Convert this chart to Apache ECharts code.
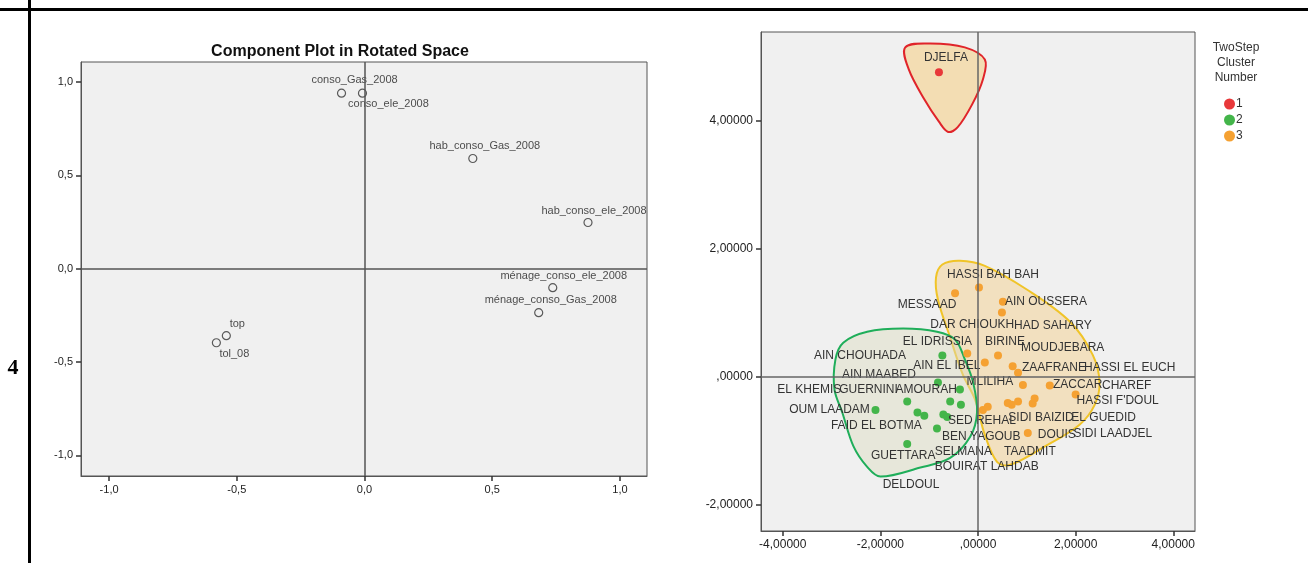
<!DOCTYPE html>
<html>
<head>
<meta charset="utf-8">
<script src="https://cdn.jsdelivr.net/npm/echarts@6/dist/echarts.min.js"></script>
<style>
  html, body { margin: 0; padding: 0; background: #fff; }
  #chart { width: 1308px; height: 563px; }
</style>
</head>
<body>
<div id="chart"></div>
<script>
// left panel: rotated component loadings
const componentNames = ['conso_Gas_2008', 'conso_ele_2008', 'hab_conso_Gas_2008', 'hab_conso_ele_2008',
  'ménage_conso_ele_2008', 'ménage_conso_Gas_2008', 'top', 'tol_08'];
const componentX = [-0.090, -0.008, 0.424, 0.875, 0.737, 0.682, -0.541, -0.580];
const componentY = [0.940, 0.940, 0.590, 0.247, -0.102, -0.236, -0.359, -0.397];
const componentTicks = [-1, -0.5, 0, 0.5, 1];

// right panel: communes by TwoStep cluster
const communeNames = ['DJELFA',
  'HASSI BAH BAH', 'MESSAAD', 'AIN OUSSERA', 'HAD SAHARY', 'DAR CHIOUKH', 'BIRINE', 'AIN EL IBEL',
  'MOUDJEBARA', 'ZAAFRANE', 'MLILIHA', 'HASSI EL EUCH', 'CHAREF', 'ZACCAR', "HASSI F'DOUL",
  'SIDI BAIZID', 'EL GUEDID', 'SIDI LAADJEL', 'DOUIS', 'TAADMIT', 'BOUIRAT LAHDAB',
  'EL IDRISSIA', 'AIN CHOUHADA', 'AIN MAABED', 'EL KHEMIS', 'GUERNINI', 'AMOURAH', 'SED REHAL',
  'OUM LAADAM', 'FAID EL BOTMA', 'SELMANA', 'BEN YAGOUB', 'GUETTARA', 'DELDOUL'];
const communeX = [-0.80,
  0.02, -0.47, 0.51, 0.49, -0.22, 0.41, 0.14,
  0.71, 0.82, 0.92, 1.47, 2.00, 1.12, 1.16,
  0.82, 0.69, 0.61, 1.02, 0.10, 0.20,
  -0.73, -0.82, -0.37, -1.45, -1.24, -0.57, -0.35,
  -2.10, -1.10, -0.71, -0.63, -1.45, -0.84];
const communeY = [4.75,
  1.39, 1.30, 1.17, 1.00, 0.36, 0.33, 0.22,
  0.16, 0.06, -0.13, -0.14, -0.28, -0.42, -0.34,
  -0.39, -0.44, -0.41, -0.88, -0.52, -0.47,
  0.33, -0.09, -0.20, -0.39, -0.56, -0.39, -0.44,
  -0.52, -0.61, -0.59, -0.63, -1.05, -0.81];
const communeCluster = [1,
  3, 3, 3, 3, 3, 3, 3,
  3, 3, 3, 3, 3, 3, 3,
  3, 3, 3, 3, 3, 3,
  2, 2, 2, 2, 2, 2, 2,
  2, 2, 2, 2, 2, 2];
const clusterNames = ['1', '2', '3'];
const clusterTicks = [-4, -2, 0, 2, 4];
const scoreTicks = [-2, 0, 2, 4];

// cluster outlines as drawn in the source (score units)
const hull1 = [[-1.49, 5.14], [-0.98, 5.20], [-0.27, 5.14], [0.14, 4.95], [0.10, 4.64], [-0.12, 4.25],
  [-0.42, 3.89], [-0.61, 3.82], [-0.80, 3.98], [-1.10, 4.33], [-1.42, 4.80]];
const hull2 = [[-2.76, 0.53], [-2.27, 0.70], [-1.53, 0.75], [-0.84, 0.70], [-0.47, 0.58], [-0.27, 0.27],
  [-0.10, -0.09], [-0.02, -0.56], [-0.16, -0.94], [-0.57, -1.27], [-1.18, -1.42], [-2.00, -1.56],
  [-2.27, -1.41], [-2.55, -1.09], [-2.78, -0.56], [-2.94, -0.20], [-2.92, 0.27]];
const hull3 = [[-0.73, 1.75], [-0.37, 1.81], [0.14, 1.73], [1.00, 1.36], [1.88, 0.86], [2.35, 0.34],
  [2.49, -0.09], [2.39, -0.44], [2.08, -0.75], [1.37, -1.09], [0.65, -1.38], [0.39, -1.33],
  [0.14, -0.91], [-0.06, -0.36], [-0.31, 0.03], [-0.57, 0.61], [-0.82, 1.20], [-0.86, 1.55]];

// label placement (pixel shift from the point)
const componentShift = [[13, -13], [26, 11], [12, -13], [6, -12], [11, -12], [12, -13], [11, -12], [18, 11]];
const communeShift = {
  'DJELFA': [7, -15], 'HASSI BAH BAH': [14, -13], 'MESSAAD': [-28, 11], 'AIN OUSSERA': [43, 0],
  'HAD SAHARY': [51, 13], 'DAR CHIOUKH': [5, -29], 'BIRINE': [7, -14], 'AIN EL IBEL': [-38, 3],
  'MOUDJEBARA': [50, -19], 'ZAAFRANE': [36, -5], 'MLILIHA': [-33, -3], 'HASSI EL EUCH': [80, -18],
  'CHAREF': [51, -9], 'ZACCAR': [45, -19], "HASSI F'DOUL": [83, 2], 'SIDI BAIZID': [23, 16],
  'EL GUEDID': [92, 13], 'SIDI LAADJEL': [105, 31], 'DOUIS': [29, 2], 'TAADMIT': [47, 42],
  'BOUIRAT LAHDAB': [-1, 60],
  'EL IDRISSIA': [-5, -14], 'AIN CHOUHADA': [-78, -27], 'AIN MAABED': [-81, -15], 'EL KHEMIS': [-98, -12],
  'GUERNINI': [-49, -23], 'AMOURAH': [-24, -12], 'SED REHAL': [21, 16], 'OUM LAADAM': [-46, 0],
  'FAID EL BOTMA': [-48, 10], 'SELMANA': [20, 37], 'BEN YAGOUB': [34, 20], 'GUETTARA': [-4, 12],
  'DELDOUL': [-26, 56]
};

const clusterColors = { '1': '#e8383a', '2': '#43b54a', '3': '#f5a132' };
const hullStyles = [
  { pts: hull3, stroke: '#f0c428', fill: 'rgba(245, 205, 130, 0.45)' },
  { pts: hull2, stroke: '#1fae5a', fill: 'rgba(220, 220, 190, 0.45)' },
  { pts: hull1, stroke: '#e0242a', fill: 'rgba(245, 205, 130, 0.55)' }
];

const fmtLoading = v => v.toFixed(1).replace('.', ',');
const fmtScore = v => (v === 0 ? ',00000' : v.toFixed(5).replace('.', ','));

const chart = echarts.init(document.getElementById('chart'));

const axisCommon = {
  type: 'value',
  splitLine: { show: false },
  axisLine: { show: true, onZero: false, lineStyle: { color: '#555', width: 1 } },
  axisTick: { show: true, inside: false, length: 5, lineStyle: { color: '#333', width: 1.5 } },
  axisLabel: { color: '#222', fontFamily: 'Arial', fontSize: 11, margin: 8 }
};

const componentData = componentNames.map((n, i) => ({
  name: n,
  value: [componentX[i], componentY[i]],
  label: { offset: componentShift[i] }
}));

const clusterSeries = clusterNames.map(c => ({
  name: c,
  type: 'scatter',
  xAxisIndex: 1,
  yAxisIndex: 1,
  z: 4,
  symbolSize: 8,
  itemStyle: { color: clusterColors[c], opacity: 1 },
  label: {
    show: true, position: 'inside', formatter: '{b}',
    color: '#333', fontFamily: 'Arial', fontSize: 12
  },
  data: communeNames
    .map((n, i) => ({ n, i }))
    .filter(d => String(communeCluster[d.i]) === c)
    .map(d => ({ name: d.n, value: [communeX[d.i], communeY[d.i]], label: { offset: communeShift[d.n] } }))
}));

const hullSeries = hullStyles.map(h => ({
  type: 'custom',
  xAxisIndex: 1,
  yAxisIndex: 1,
  z: 2,
  silent: true,
  data: [h.pts[0]],
  renderItem: (params, api) => ({
    type: 'polygon',
    shape: { points: h.pts.map(p => api.coord(p)), smooth: 0.35 },
    style: { fill: h.fill, stroke: h.stroke, lineWidth: 2 }
  })
}));

const zeroLines = {
  silent: true,
  symbol: 'none',
  label: { show: false },
  lineStyle: { color: '#555', width: 1.5, type: 'solid' },
  data: [{ xAxis: 0 }, { yAxis: 0 }]
};

chart.setOption({
  animation: false,
  title: [
    {
      text: 'Component Plot in Rotated Space', left: 335, top: 39, textAlign: 'center',
      textStyle: { fontFamily: 'Arial', fontSize: 16, fontWeight: 'bold', color: '#111' }
    },
    {
      text: 'TwoStep\nCluster\nNumber', left: 1231, top: 35, textAlign: 'center',
      textStyle: { fontFamily: 'Arial', fontSize: 12, fontWeight: 'normal', color: '#333', lineHeight: 15 }
    }
  ],
  legend: {
    data: clusterNames,
    orient: 'vertical',
    left: 1219,
    top: 93,
    itemWidth: 11,
    itemHeight: 11,
    itemGap: 4,
    icon: 'circle',
    textStyle: { fontFamily: 'Arial', fontSize: 12, color: '#333', padding: [0, 0, 0, -4] }
  },
  graphic: [
    { type: 'rect', shape: { x: 0, y: 8, width: 1308, height: 3 }, style: { fill: '#000' } },
    { type: 'rect', shape: { x: 28, y: 0, width: 3, height: 563 }, style: { fill: '#000' } },
    {
      type: 'text', x: 13, y: 368,
      style: { text: '4', fontFamily: 'Liberation Serif', fontSize: 22, fontWeight: 'bold', fill: '#000', align: 'center', verticalAlign: 'middle' }
    }
  ],
  grid: [
    { left: 81, top: 62, width: 566, height: 414, show: true, backgroundColor: '#f0f0f0', borderColor: '#555', borderWidth: 1 },
    { left: 761, top: 32, width: 434, height: 499, show: true, backgroundColor: '#f0f0f0', borderColor: '#555', borderWidth: 1 }
  ],
  xAxis: [
    {
      ...axisCommon, gridIndex: 0, min: -1.11, max: 1.106,
      axisTick: { ...axisCommon.axisTick, customValues: componentTicks },
      axisLabel: { ...axisCommon.axisLabel, customValues: componentTicks, formatter: fmtLoading }
    },
    {
      ...axisCommon, gridIndex: 1, min: -4.445, max: 4.445,
      axisTick: { ...axisCommon.axisTick, customValues: clusterTicks },
      axisLabel: { ...axisCommon.axisLabel, fontSize: 12, customValues: clusterTicks, formatter: fmtScore }
    }
  ],
  yAxis: [
    {
      ...axisCommon, gridIndex: 0, min: -1.111, max: 1.107,
      axisTick: { ...axisCommon.axisTick, customValues: componentTicks },
      axisLabel: { ...axisCommon.axisLabel, customValues: componentTicks, formatter: fmtLoading }
    },
    {
      ...axisCommon, gridIndex: 1, min: -2.41, max: 5.38,
      axisTick: { ...axisCommon.axisTick, customValues: scoreTicks },
      axisLabel: { ...axisCommon.axisLabel, fontSize: 12, customValues: scoreTicks, formatter: fmtScore }
    }
  ],
  series: [
    {
      type: 'scatter',
      xAxisIndex: 0,
      yAxisIndex: 0,
      symbol: 'circle',
      symbolSize: 8,
      itemStyle: { color: 'rgba(0,0,0,0)', borderColor: '#333', borderWidth: 1.2 },
      label: {
        show: true, position: 'inside', formatter: '{b}',
        color: '#222', fontFamily: 'Arial', fontSize: 11
      },
      markLine: zeroLines,
      data: componentData
    },
    ...hullSeries,
    {
      type: 'scatter',
      xAxisIndex: 1,
      yAxisIndex: 1,
      data: [],
      markLine: { ...zeroLines, lineStyle: { color: '#666', width: 1.5, type: 'solid' } }
    },
    ...clusterSeries
  ]
});
</script>
</body>
</html>
